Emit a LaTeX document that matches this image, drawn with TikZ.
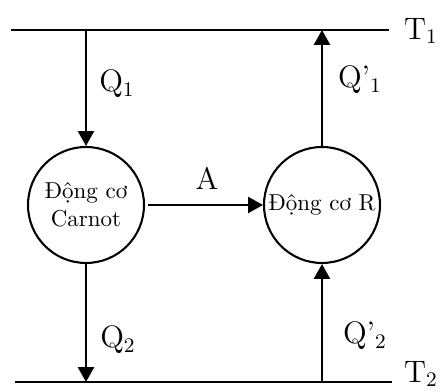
\documentclass[tikz,border=0pt]{standalone}
\usepackage{fontspec}
\setmainfont{Latin Modern Roman}
\usetikzlibrary{arrows.meta}
\tikzset{
  engine/.style={draw, circle, line width=0.9pt, minimum size=116*0.4348pt, inner sep=0pt, align=center, font=\fontsize{10}{12}\selectfont},
  reservoir/.style={line width=0.9pt},
  flow/.style={line width=0.9pt, -{Triangle[length=6.5pt,width=7pt]}},
  lab/.style={font=\fontsize{13.5}{16}\selectfont, inner sep=0pt}
}
\begin{document}
\begin{tikzpicture}[x=0.4348pt, y=-0.4348pt]
\useasboundingbox (0,0) rectangle (440,392);
% reservoirs
\coordinate (t1a) at (11,30);
\coordinate (t1b) at (389,30);
\coordinate (t2a) at (15,382);
\coordinate (t2b) at (392,382);
\draw[reservoir] (t1a) -- (t1b);
\draw[reservoir] (t2a) -- (t2b);
\node[lab] (T1) at (421,31) {T$_1$};
\node[lab] (T2) at (421,374) {T$_2$};
% engines
\node[engine] (c1) at (86,205) {Động cơ\\Carnot};
\node[engine] (c2) at (322,205) {Động cơ R};
% connector endpoints on reservoirs
\coordinate (q1s) at (86,30);
\coordinate (q1e) at (322,30);
\coordinate (q2e) at (86,382);
\coordinate (q2s) at (322,382);
% flows
\draw[flow] (q1s) -- (c1.north);
\draw[flow] (c2.north) -- (q1e);
\draw[flow] (c1.south) -- (q2e);
\draw[flow] (q2s) -- (c2.south);
\draw[flow] (c1.east) ++(3,0) coordinate (ae) (ae) -- (c2.west);
% labels
\node[lab] (lq1) at (117,84) {Q$_1$};
\node[lab] (lq1p) at (360,80) {Q'$_1$};
\node[lab] (lA) at (207,178) {A};
\node[lab] (lq2) at (118,340) {Q$_2$};
\node[lab] (lq2p) at (365,336) {Q'$_2$};
\end{tikzpicture}
\end{document}
